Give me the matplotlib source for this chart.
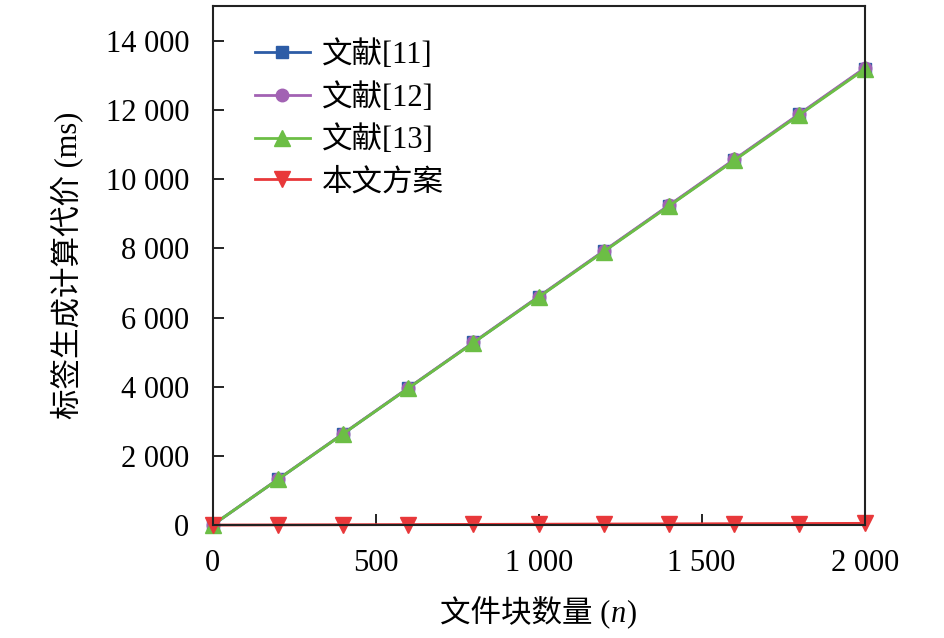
import matplotlib
matplotlib.use('Agg')
import matplotlib.pyplot as plt
from matplotlib.ticker import FuncFormatter

plt.rcParams['font.family'] = ['Liberation Serif', 'Noto Sans CJK SC']

# data
blocks = [0, 200, 400, 600, 800, 1000, 1200, 1400, 1600, 1800, 2000]
ref11 = [0, 1320, 2640, 3960, 5280, 6600, 7920, 9240, 10560, 11880, 13200]
ref12 = [0, 1322, 2643, 3965, 5286, 6608, 7930, 9251, 10573, 11894, 13216]
ref13 = [0, 1318, 2636, 3955, 5273, 6591, 7909, 9227, 10546, 11864, 13182]
ours = [0, 5, 10, 15, 20, 25, 30, 35, 40, 45, 50]

fig, ax = plt.subplots(figsize=(9.45, 6.38), dpi=100)
fig.subplots_adjust(left=0.225, right=0.915, top=0.99, bottom=0.177)

ax.plot(blocks, ref11, color='#2D5CA6', marker='s', markersize=8, lw=2, label='文献[11]', clip_on=False)
ax.plot(blocks, ref12, color='#A262B3', marker='o', markersize=9, lw=2, label='文献[12]', clip_on=False)
ax.plot(blocks, ref13, color='#6CBE45', marker='^', markersize=11, lw=2, label='文献[13]', clip_on=False)
ax.plot(blocks, ours, color='#E8383A', marker='v', markersize=11, lw=2, label='本文方案', clip_on=False)

ax.set_xlim(0, 2000)
ax.set_ylim(0, 15000)
ax.set_xticks([0, 500, 1000, 1500, 2000])
ax.set_yticks(range(0, 14001, 2000))

space_fmt = FuncFormatter(lambda v, p: f'{int(v):,}'.replace(',', ' '))
ax.xaxis.set_major_formatter(space_fmt)
ax.yaxis.set_major_formatter(space_fmt)

ax.tick_params(direction='in', length=8, width=1.2, labelsize=22, pad=17)
for s in ax.spines.values():
    s.set_linewidth(1.5)
    s.set_color('#222222')

ax.set_ylabel('标签生成计算代价 (ms)', fontsize=22, labelpad=16)

ax.legend(loc='upper left', frameon=False, fontsize=22, handlelength=1.8,
          handletextpad=0.4, borderaxespad=0, labelspacing=0.42,
          bbox_to_anchor=(0.046, 0.958))

# x label in pieces so that n can be italic while the CJK text keeps its font
ylab = -0.186
t1 = ax.text(0.349, ylab, '文件块数量 (', transform=ax.transAxes,
             fontsize=22, ha='left', va='baseline')
fig.canvas.draw()
bb = t1.get_window_extent()
x2 = ax.transAxes.inverted().transform((bb.x1, bb.y0))[0]
t2 = ax.text(x2, ylab, 'n', transform=ax.transAxes, fontsize=22,
             style='italic', ha='left', va='baseline')
fig.canvas.draw()
bb = t2.get_window_extent()
x3 = ax.transAxes.inverted().transform((bb.x1, bb.y0))[0]
ax.text(x3, ylab, ')', transform=ax.transAxes, fontsize=22,
        ha='left', va='baseline')

fig.savefig('out.png', dpi=100)
